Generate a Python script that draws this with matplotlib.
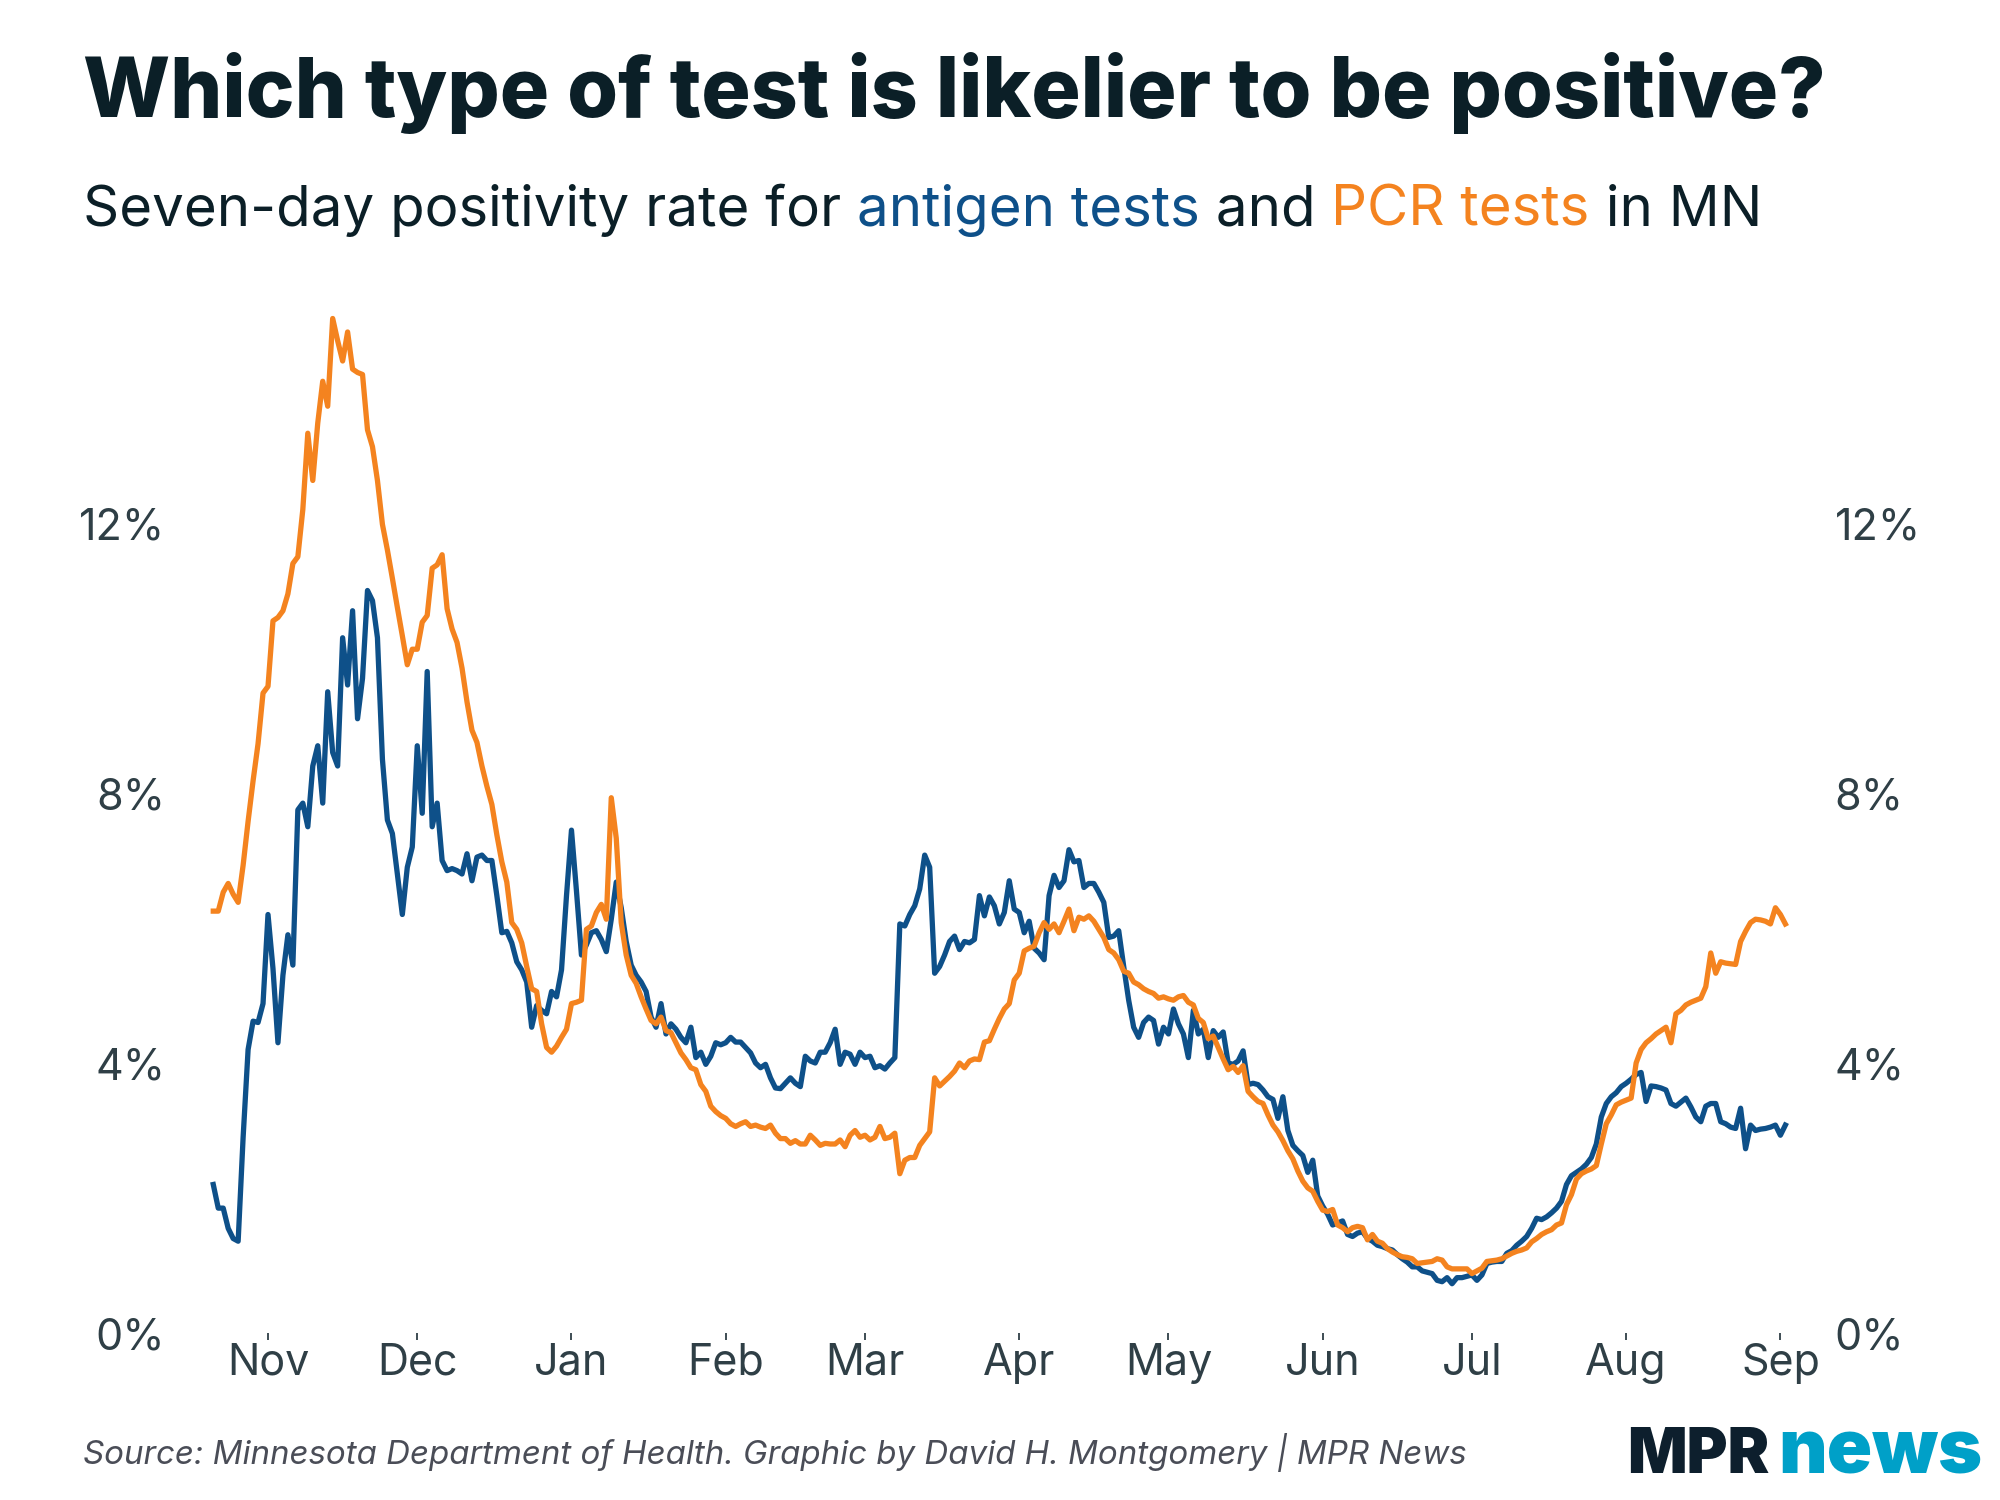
import pandas as pd
import matplotlib
matplotlib.use("Agg")
import matplotlib.pyplot as plt
import matplotlib.dates as mdates

plt.rcParams["font.family"] = ["Inter", "DejaVu Sans"]

BLUE = "#0e5089"
ORANGE = "#f4831f"
INK = "#0b1f27"
AXIS = "#2f3f46"
FOOT = "#4a4d57"

# seven-day positivity, % -- daily from 2020-10-21
start_date = "2020-10-21"
antigen = [
    2.2, 1.85, 1.85, 1.55, 1.4, 1.36, 2.9, 4.2, 4.62, 4.6,
    4.88, 6.2, 5.4, 4.3, 5.3, 5.9, 5.45, 7.75, 7.85, 7.5,
    8.4, 8.7, 7.85, 9.5, 8.6, 8.4, 10.3, 9.6, 10.7, 9.1,
    9.7, 11.0, 10.85, 10.3, 8.5, 7.6, 7.4, 6.8, 6.2, 6.9,
    7.2, 8.7, 7.7, 9.8, 7.5, 7.85, 7.0, 6.85, 6.88, 6.85,
    6.8, 7.1, 6.7, 7.05, 7.08, 7.0, 7.0, 6.48, 5.93, 5.95,
    5.78, 5.5, 5.38, 5.2, 4.53, 4.85, 4.78, 4.73, 5.06, 4.98,
    5.38, 6.48, 7.45, 6.55, 5.6, 5.75, 5.93, 5.96, 5.83, 5.65,
    6.13, 6.68, 6.3, 5.8, 5.45, 5.3, 5.2, 5.06, 4.68, 4.53,
    4.88, 4.43, 4.58, 4.5, 4.38, 4.3, 4.53, 4.08, 4.16, 3.98,
    4.1, 4.3, 4.27, 4.3, 4.38, 4.31, 4.31, 4.23, 4.15, 4.0,
    3.93, 3.98, 3.78, 3.63, 3.62, 3.7, 3.78, 3.7, 3.65, 4.1,
    4.03, 4.0, 4.16, 4.16, 4.3, 4.5, 3.98, 4.16, 4.13, 3.98,
    4.16, 4.08, 4.1, 3.93, 3.96, 3.91, 4.0, 4.08, 6.06, 6.03,
    6.2, 6.33, 6.58, 7.08, 6.9, 5.33, 5.43, 5.6, 5.8, 5.88,
    5.68, 5.8, 5.78, 5.83, 6.48, 6.18, 6.46, 6.33, 6.06, 6.23,
    6.7, 6.28, 6.23, 5.93, 6.1, 5.7, 5.63, 5.53, 6.48, 6.78,
    6.6, 6.7, 7.16, 6.98, 7.0, 6.6, 6.66, 6.66, 6.53, 6.38,
    5.86, 5.88, 5.96, 5.43, 4.93, 4.53, 4.38, 4.6, 4.68, 4.63,
    4.28, 4.53, 4.43, 4.8, 4.58, 4.43, 4.08, 4.78, 4.43, 4.5,
    4.08, 4.48, 4.38, 4.46, 4.0, 3.98, 4.03, 4.18, 3.68, 3.7,
    3.68, 3.6, 3.5, 3.46, 3.18, 3.5, 3.0, 2.78, 2.7, 2.63,
    2.38, 2.56, 2.03, 1.88, 1.76, 1.6, 1.63, 1.66, 1.46, 1.43,
    1.48, 1.5, 1.4, 1.36, 1.3, 1.28, 1.25, 1.23, 1.16, 1.1,
    1.05, 0.98, 0.98, 0.92, 0.9, 0.88, 0.78, 0.76, 0.82, 0.73,
    0.82, 0.82, 0.84, 0.86, 0.78, 0.86, 1.03, 1.05, 1.06, 1.06,
    1.18, 1.22, 1.3, 1.36, 1.43, 1.55, 1.7, 1.68, 1.72, 1.78,
    1.85, 1.95, 2.2, 2.33, 2.38, 2.43, 2.5, 2.6, 2.8, 3.2,
    3.4, 3.5, 3.56, 3.65, 3.7, 3.76, 3.83, 3.86, 3.43, 3.66,
    3.65, 3.63, 3.6, 3.4, 3.36, 3.42, 3.48, 3.35, 3.2, 3.13,
    3.36, 3.4, 3.4, 3.13, 3.1, 3.05, 3.03, 3.33, 2.73, 3.08,
    3.0, 3.02, 3.03, 3.05, 3.08, 2.93, 3.08,
]
pcr = [
    6.25, 6.25, 6.53, 6.66, 6.5, 6.38, 6.93, 7.58, 8.18, 8.73,
    9.48, 9.58, 10.55, 10.6, 10.7, 10.95, 11.4, 11.5, 12.2, 13.33,
    12.63, 13.48, 14.1, 13.73, 15.03, 14.7, 14.4, 14.83, 14.28, 14.23,
    14.2, 13.38, 13.13, 12.63, 11.98, 11.6, 11.18, 10.75, 10.33, 9.9,
    10.13, 10.13, 10.53, 10.63, 11.33, 11.38, 11.53, 10.73, 10.43, 10.23,
    9.85, 9.35, 8.93, 8.75, 8.4, 8.1, 7.83, 7.38, 6.98, 6.68,
    6.08, 5.98, 5.78, 5.43, 5.1, 5.06, 4.58, 4.23, 4.16, 4.25,
    4.38, 4.5, 4.88, 4.9, 4.93, 5.98, 6.03, 6.23, 6.35, 6.13,
    7.93, 7.33, 6.08, 5.6, 5.3, 5.18, 4.98, 4.8, 4.63, 4.58,
    4.68, 4.48, 4.45, 4.3, 4.15, 4.05, 3.93, 3.9, 3.68, 3.58,
    3.36, 3.28, 3.22, 3.18, 3.1, 3.06, 3.1, 3.13, 3.06, 3.08,
    3.05, 3.03, 3.08, 2.96, 2.88, 2.88, 2.81, 2.85, 2.8, 2.8,
    2.93, 2.86, 2.78, 2.81, 2.8, 2.8, 2.86, 2.76, 2.93, 3.0,
    2.9, 2.93, 2.86, 2.9, 3.06, 2.88, 2.9, 2.96, 2.36, 2.56,
    2.6, 2.6, 2.78, 2.88, 2.98, 3.78, 3.66, 3.73, 3.8, 3.88,
    4.0, 3.93, 4.03, 4.06, 4.05, 4.31, 4.33, 4.5, 4.66, 4.8,
    4.88, 5.23, 5.33, 5.66, 5.7, 5.73, 5.93, 6.08, 5.98, 6.06,
    5.93, 6.1, 6.28, 5.96, 6.16, 6.13, 6.18, 6.1, 5.98, 5.86,
    5.68, 5.63, 5.53, 5.36, 5.33, 5.2, 5.16, 5.1, 5.06, 5.03,
    4.96, 4.98, 4.95, 4.93, 4.98, 5.0, 4.9, 4.86, 4.66, 4.6,
    4.36, 4.4, 4.23, 4.06, 3.9, 3.95, 3.86, 3.96, 3.58, 3.5,
    3.43, 3.4, 3.23, 3.08, 2.98, 2.85, 2.7, 2.58, 2.4, 2.25,
    2.15, 2.1, 1.95, 1.82, 1.8, 1.83, 1.6, 1.56, 1.5, 1.56,
    1.58, 1.56, 1.38, 1.46, 1.36, 1.33, 1.25, 1.2, 1.16, 1.13,
    1.12, 1.1, 1.03, 1.04, 1.05, 1.06, 1.1, 1.08, 0.98, 0.95,
    0.95, 0.95, 0.95, 0.88, 0.92, 0.96, 1.06, 1.07, 1.08, 1.1,
    1.14, 1.18, 1.21, 1.23, 1.26, 1.35, 1.4, 1.46, 1.5, 1.53,
    1.6, 1.63, 1.9, 2.05, 2.28, 2.36, 2.4, 2.43, 2.48, 2.8,
    3.1, 3.23, 3.38, 3.42, 3.45, 3.48, 4.0, 4.2, 4.3, 4.36,
    4.43, 4.48, 4.53, 4.3, 4.73, 4.78, 4.86, 4.9, 4.93, 4.96,
    5.13, 5.63, 5.33, 5.5, 5.48, 5.47, 5.46, 5.8, 5.95, 6.08,
    6.13, 6.12, 6.1, 6.06, 6.3, 6.2, 6.06,
]
dates = pd.date_range(start_date, periods=len(antigen), freq="D")

month_ticks = pd.date_range("2020-11-01", "2021-09-01", freq="MS")
month_labels = [d.strftime("%b") for d in month_ticks]
y_ticks = [0, 4, 8, 12]
y_labels = [f"{v}%" for v in y_ticks]

W, H = 2000, 1500
fig = plt.figure(figsize=(W / 100, H / 100), dpi=100)
fig.patch.set_facecolor("white")

# plot area: 0% at y=1333px, 12% at y=523px; Nov 1 at x=268px, ~4.975 px/day
ax = fig.add_axes([200 / W, 1 - 1333 / H, 1600 / W, 1033 / H])
ax.plot(dates, antigen, color=BLUE, lw=3.8, solid_joinstyle="round")
ax.plot(dates, pcr, color=ORANGE, lw=3.8, solid_joinstyle="round")

nov1 = mdates.date2num(pd.Timestamp("2020-11-01"))
ax.set_xlim(nov1 - 68 / 4.975, nov1 + 1532 / 4.975)
ax.set_ylim(0, 1033 / 67.5)
ax.set_xticks(month_ticks)
ax.set_xticklabels(month_labels)
ax.set_yticks(y_ticks)
ax.set_yticklabels(y_labels)
for s in ax.spines.values():
    s.set_visible(False)
ax.tick_params(axis="x", length=5, width=1.3, color=AXIS, pad=2,
               labelsize=31, labelcolor=AXIS)
ax.tick_params(axis="y", length=0, pad=25, labelsize=31, labelcolor=AXIS,
               left=False, right=False, labelleft=True, labelright=True)

# headline + subtitle
fig.text(83 / W, 1 - 117 / H, "Which type of test is likelier to be positive?",
         fontsize=59.3, fontweight=800, color=INK, va="baseline")

renderer = fig.canvas.get_renderer()
SUB_FS = 40.6
parts = [("Seven-day positivity rate for ", INK), ("antigen tests", BLUE),
         (" and ", INK), ("PCR tests", ORANGE), (" in MN", INK)]
probe = fig.text(0, 0, "|", fontsize=SUB_FS)
bar_w = probe.get_window_extent(renderer).width
probe.remove()
prefix = ""
for txt, col in parts:
    if prefix:
        t = fig.text(0, 0, prefix + "|", fontsize=SUB_FS)
        off = t.get_window_extent(renderer).width - bar_w
        t.remove()
    else:
        off = 0
    fig.text((83 + off) / W, 1 - 226 / H, txt, fontsize=SUB_FS, color=col,
             va="baseline")
    prefix += txt

# footer
fig.text(83 / W, 1 - 1464 / H,
         "Source: Minnesota Department of Health. Graphic by David H. Montgomery | MPR News",
         fontsize=23.8, style="italic", color=FOOT, va="baseline")

mpr = fig.text(1627 / W, 1 - 1473 / H, "MPR", fontsize=45, fontweight=900,
               color="#0d1f2d", va="baseline")
mx = mpr.get_window_extent(renderer).x1
fig.text((mx + 9) / W, 1 - 1473 / H, "news", fontsize=54, fontweight=900,
         color="#00a0c8", va="baseline")

fig.savefig("out.png", dpi=100, facecolor="white")
